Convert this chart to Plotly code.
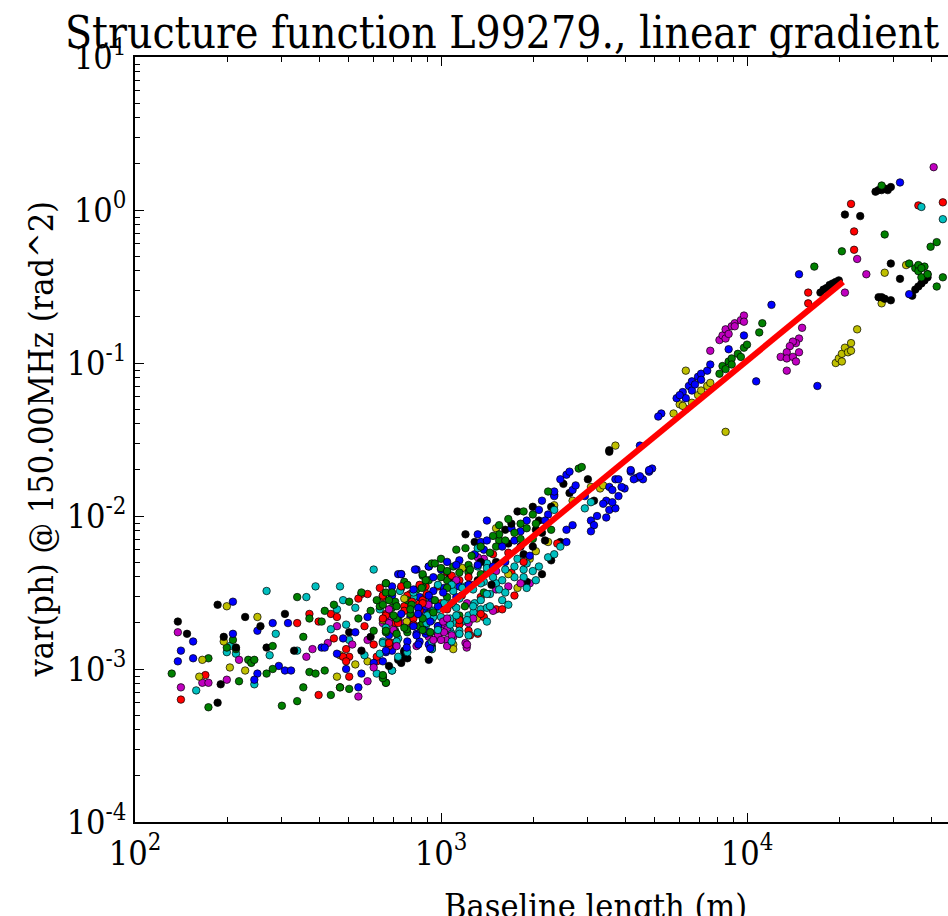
import numpy as np
import plotly.graph_objects as go

# ---- data (log10 of baseline length [m], log10 of phase variance [rad^2]) ----
blue_logx = [2.19,2.15,2.14,2.19,2.32,2.32,2.40,2.40,2.39,2.45,2.47,2.49,2.51,2.50,2.61,2.62,2.69,2.73,2.74,
             2.72,2.78,2.83,2.84,2.86,2.92,2.90,2.93,2.96,2.95,2.87,2.84,2.82,2.81,2.89,2.92,2.93,2.97,2.96,3.00,3.01,2.99,2.95,2.93,2.99,2.95,3.05,3.06,
             3.21,3.11,3.14,3.12,3.13,3.23,3.24,3.26,3.28,3.32,3.33,3.41,3.43,3.41,3.35,3.37,3.39,3.41,3.43,3.42,3.37,3.44,3.47,
             3.51,3.49,3.50,3.49,3.54,3.55,3.57,3.54,3.53,3.56,3.58,3.60,3.57,3.55,3.62,3.64,3.66,3.68,3.69,3.65,
             3.62,3.65,3.68,3.63,3.58,3.59,3.56,3.72,3.71,
             3.77,3.79,3.80,3.81,3.82,3.84,3.85,3.87,3.88,3.82,3.85,3.78,3.83,
             3.94,3.99,4.08,4.03,4.23,4.17,4.50,4.53,
             2.84,2.975,3.007,2.926,2.99,2.92,2.948,2.888,2.926,
             3.06,3.15,3.20,3.29,3.02,3.15,3.34,2.68,2.76,2.66,
             2.87,2.915,3.05,3.12,3.17,2.91,2.975,3.09,2.96,2.87,2.925,2.965,2.91,2.82,2.965]
blue_logy = [-2.82,-2.88,-2.95,-2.93,-2.56,-2.77,-2.75,-3.03,-3.07,-2.70,-2.98,-3.01,-3.01,-2.70,-2.86,-2.86,-3.00,-3.12,-3.03,
             -2.76,-2.96,-2.78,-2.88,-2.38,-2.35,-2.66,-2.53,-2.84,-2.61,-2.38,-2.52,-2.89,-2.95,-2.82,-2.77,-2.64,-2.55,-2.33,-2.35,-2.47,-2.72,-2.77,-2.82,-2.79,-2.59,-2.53,-2.46,
             -2.30,-2.25,-2.22,-2.12,-2.17,-2.08,-2.16,-2.10,-2.03,-1.96,-1.90,-2.09,-2.06,-2.17,-1.99,-1.87,-1.76,-1.73,-1.83,-1.71,-1.84,-1.80,-1.87,
             -2.00,-2.03,-2.06,-2.10,-2.01,-1.96,-1.95,-1.90,-1.92,-1.91,-1.87,-1.82,-1.76,-1.81,-1.71,-1.75,-1.76,-1.71,-1.69,-1.54,
             -1.70,-1.74,-1.70,-1.76,-1.76,-1.81,-1.83,-1.33,-1.35,
             -1.23,-1.19,-1.23,-1.15,-1.12,-1.09,-1.07,-1.05,-1.01,-1.18,-1.11,-1.21,-1.14,
             -0.91,-0.82,-0.62,-1.12,-1.15,-0.42,0.18,-0.55,
             -2.46,-2.49,-2.50,-2.60,-2.59,-2.78,-2.75,-2.86,-2.84,
             -2.29,-2.16,-2.20,-2.26,-2.30,-2.03,-2.03,-2.80,-2.66,-2.90,
             -2.38,-2.35,-2.32,-2.32,-2.33,-2.48,-2.40,-2.45,-2.52,-2.64,-2.64,-2.69,-2.72,-2.88,-2.865]

green_logx = [2.12,2.24,2.24,2.32,2.30,2.33,2.37,2.38,2.39,2.34,2.43,2.45,2.45,2.48,2.53,2.55,2.53,2.55,2.57,2.57,2.59,2.62,2.64,2.67,2.70,
              2.74,2.82,2.61,2.65,2.70,2.78,2.82,2.80,2.86,2.89,2.94,2.93,2.96,
              2.88,2.85,2.84,2.82,2.85,2.81,2.89,2.90,2.92,2.94,2.96,3.00,2.97,3.02,2.94,3.02,3.06,
              3.06,3.14,3.09,3.09,3.16,3.13,3.08,3.05,3.19,3.19,3.19,3.21,3.26,3.26,3.28,3.27,3.30,3.36,3.35,3.45,3.46,
              3.91,3.92,3.94,3.95,3.97,3.99,4.00,3.95,3.98,4.04,4.05,3.93,
              4.22,4.31,4.44,4.45,4.60,4.62,4.53,4.55,4.56,4.58,4.56,4.57,4.59,4.57,4.62,4.64,
              2.82,2.937,3.02,2.81,2.855,2.904,3.078,2.855,2.94,2.82,2.855,2.888,
              3.04,3.10,3.17,3.24,3.30,3.00,3.22,3.18,3.31,2.62,2.73,2.77,2.79,
              2.82,2.94,2.98,3.00,3.02,3.095,3.13,2.84,2.89,2.95,2.83,2.98,2.845,2.90,2.975,2.88,2.94,2.965,2.81]
green_logy = [-3.03,-2.93,-3.25,-2.81,-2.86,-2.87,-2.94,-2.96,-2.94,-3.08,-3.03,-2.85,-3.00,-3.24,-3.21,-3.12,-2.53,-2.79,-2.67,-3.02,-3.03,-3.01,-3.17,-3.12,-3.13,
              -2.50,-2.44,-2.69,-2.58,-2.56,-2.75,-3.09,-2.59,-2.67,-2.55,-2.46,-2.72,-2.64,
              -2.43,-2.56,-2.60,-2.76,-2.75,-3.06,-2.76,-2.64,-2.48,-2.39,-2.42,-2.28,-2.31,-2.42,-2.70,-2.53,-2.37,
              -2.65,-2.50,-2.37,-2.32,-2.24,-2.20,-2.21,-2.22,-2.16,-2.12,-2.06,-2.16,-2.15,-2.05,-2.08,-1.97,-1.99,-2.09,-1.84,-1.69,-1.68,
              -1.07,-1.02,-0.99,-0.97,-0.94,-0.90,-0.88,-1.01,-0.96,-0.80,-0.74,-1.04,
              -0.37,-0.27,0.16,-0.16,-0.24,-0.21,-0.35,-0.38,-0.36,-0.37,-0.40,-0.44,-0.42,-0.38,-0.50,-0.44,
              -2.50,-2.47,-2.47,-2.58,-2.59,-2.58,-2.59,-2.67,-2.67,-2.75,-2.77,-2.74,
              -2.33,-2.26,-2.13,-2.11,-2.15,-2.40,-2.02,-2.20,-2.05,-2.62,-2.67,-2.62,-2.55,
              -2.44,-2.38,-2.31,-2.34,-2.36,-2.35,-2.38,-2.50,-2.45,-2.42,-2.55,-2.55,-2.65,-2.61,-2.63,-2.73,-2.745,-2.76,-3.04]

red_logx = [2.15,2.23,2.53,2.57,2.60,2.67,2.70,
            2.74,2.76,2.81,2.60,2.64,2.73,2.69,2.70,2.68,2.65,2.79,2.79,2.82,2.82,2.85,2.90,2.93,
            2.81,2.82,2.88,2.84,2.91,2.94,2.89,2.95,3.02,2.99,3.00,3.06,
            3.06,3.09,3.12,3.18,3.20,3.13,3.23,3.15,3.15,3.17,3.38,
            4.20,4.20,4.35,4.35,4.34,4.56,4.64,
            2.80,2.953,3.068,2.88,2.93,3.02,2.91,3.06,3.095,2.83,
            3.09,3.22,3.27,3.24,3.14,2.66,2.75,2.78,2.69,
            3.035,2.81,2.87,2.93,2.905,2.94,2.81,3.13,2.86,2.83]
red_logy = [-3.20,-3.04,-2.70,-2.64,-3.17,-3.12,-3.05,
            -2.51,-2.51,-2.52,-2.69,-2.64,-2.54,-2.87,-2.92,-2.92,-2.80,-2.95,-2.92,-2.64,-2.83,-2.70,-2.51,-2.57,
            -2.53,-2.65,-2.59,-2.83,-2.67,-2.55,-2.52,-2.46,-2.37,-2.46,-2.57,-2.42,
            -2.71,-2.75,-2.77,-2.61,-2.61,-2.53,-2.37,-2.37,-2.32,-2.25,-2.18,
            -0.54,-0.61,-0.26,-0.14,0.04,0.03,0.05,
            -2.47,-2.51,-2.52,-2.62,-2.62,-2.61,-2.71,-2.68,-2.78,-2.85,
            -2.40,-2.24,-2.30,-2.52,-2.66,-2.66,-2.72,-2.84,-2.95,
            -2.39,-2.52,-2.46,-2.45,-2.56,-2.57,-2.67,-2.64,-2.70,-2.83]

cyan_logx = [2.20,2.31,2.30,2.33,2.43,2.39,2.46,2.44,2.53,2.56,2.59,2.67,2.78,
             2.66,2.68,2.69,2.70,2.75,2.79,2.84,2.80,2.97,2.99,
             2.87,2.81,2.86,2.84,2.91,2.95,2.97,3.03,2.95,2.97,3.03,3.05,3.07,3.09,3.13,3.15,3.11,3.16,3.18,3.19,3.21,3.27,3.24,3.27,3.30,3.32,3.28,3.25,3.24,3.21,3.17,3.14,3.08,3.12,3.15,3.12,3.35,3.39,3.37,3.47,3.49,3.00,3.04,3.06,3.37,
             4.57,4.64,
             2.866,2.91,3.04,2.975,3.05,3.106,2.953,2.975,3.03,3.035,3.06,2.81,2.855,2.97,
             3.20,3.20,3.28,3.31,3.22,2.64,2.72,2.80,2.86,
             3.15,2.99,3.035,3.07,3.105,3.13,3.15,3.01,3.035,3.06,3.105,3.13,3.16,2.955,3.05,3.085,3.15,2.82,2.99,3.06,3.09,3.12,3.035,2.89]
cyan_logy = [-3.14,-2.85,-2.89,-2.90,-2.49,-3.10,-2.77,-2.91,-2.88,-2.53,-2.46,-2.46,-2.35,
             -2.61,-2.55,-2.71,-2.81,-2.91,-3.03,-3.01,-2.61,-2.81,-2.61,
             -2.47,-2.82,-2.80,-3.01,-2.53,-2.53,-2.68,-2.67,-2.72,-2.82,-2.75,-2.70,-2.69,-2.65,-2.61,-2.60,-2.57,-2.51,-2.44,-2.48,-2.50,-2.40,-2.40,-2.35,-2.36,-2.33,-2.31,-2.28,-2.33,-2.35,-2.40,-2.43,-2.46,-2.33,-2.31,-2.21,-2.27,-2.20,-1.96,-1.95,-1.91,-2.66,-2.58,-2.77,-2.25,
             0.02,-0.06,
             -2.49,-2.50,-2.49,-2.62,-2.60,-2.63,-2.70,-2.66,-2.71,-2.77,-2.75,-2.83,-2.82,-2.87,
             -2.42,-2.55,-2.47,-2.42,-2.58,-2.74,-2.60,-2.90,-2.92,
             -2.34,-2.45,-2.45,-2.47,-2.48,-2.44,-2.51,-2.57,-2.57,-2.54,-2.59,-2.55,-2.59,-2.65,-2.65,-2.68,-2.69,-2.73,-2.745,-2.77,-2.78,-2.76,-2.82,-2.89]

magenta_logx = [2.14,2.15,2.22,2.24,2.30,2.34,2.56,2.58,2.73,2.76,
                2.66,2.63,2.76,2.81,2.81,2.88,2.99,
                2.83,2.82,2.90,2.96,3.01,2.99,2.96,3.02,3.04,3.08,2.93,3.18,3.22,3.29,3.18,3.14,3.12,3.09,
                3.88,3.91,3.92,3.93,3.95,3.96,3.98,3.99,3.99,3.93,3.94,3.96,
                4.18,4.17,4.16,4.15,4.14,4.13,4.11,4.13,4.15,4.17,4.16,4.13,
                4.32,4.36,4.39,4.61,
                2.83,2.959,2.83,3.007,3.09,2.964,2.99,3.02,3.02,3.084,
                3.10,3.26,3.17,2.71,2.78,
                3.05,3.085,3.02,3.105,2.845,3.01,3.035,2.975,3.00,3.085,2.855,2.92]
magenta_logy = [-2.76,-3.12,-3.09,-3.09,-3.07,-2.94,-2.92,-2.87,-3.18,-3.08,
                -2.72,-2.83,-2.81,-3.05,-2.70,-2.70,-2.72,
                -2.68,-3.09,-2.70,-2.60,-2.71,-2.77,-2.79,-2.81,-2.79,-2.83,-2.72,-2.48,-2.46,-2.44,-2.36,-2.28,-2.27,-2.69,
                -0.92,-0.85,-0.82,-0.78,-0.76,-0.74,-0.72,-0.69,-0.73,-0.84,-0.81,-0.76,
                -0.77,-0.84,-0.87,-0.86,-0.89,-0.93,-0.96,-0.97,-0.96,-0.93,-0.99,-1.05,
                -0.54,-0.32,-0.42,0.28,
                -2.61,-2.58,-2.70,-2.69,-2.70,-2.76,-2.78,-2.74,-2.85,-2.86,
                -2.45,-2.44,-2.62,-2.84,-2.99,
                -2.42,-2.57,-2.67,-2.67,-2.745,-2.76,-2.78,-2.81,-2.81,-2.84,-2.85,-2.85]

yellow_logx = [2.30,2.22,2.21,2.31,2.29,2.40,2.36,2.66,
               2.67,2.76,2.89,3.04,3.25,3.29,3.18,3.35,3.31,3.37,3.43,3.49,3.52,3.57,3.53,
               3.76,3.78,3.80,3.82,3.84,3.85,3.87,3.88,3.80,3.93,3.79,
               4.36,4.29,4.30,4.31,4.32,4.34,4.33,4.31,4.34,
               4.45,4.52,4.44,
               2.81,2.888,3.117,3.04,3.22,2.72,3.07,2.88]
yellow_logy = [-2.59,-2.94,-3.05,-2.99,-2.82,-2.66,-3.01,-3.05,
               -2.91,-2.95,-2.70,-2.84,-2.47,-2.28,-2.08,-2.17,-2.23,-1.93,-1.90,-1.81,-1.82,-1.54,-1.80,
               -1.33,-1.27,-1.30,-1.26,-1.21,-1.18,-1.15,-1.13,-1.05,-1.45,-1.28,
               -0.78,-1.00,-0.97,-0.94,-0.90,-0.87,-0.93,-0.99,-0.92,
               -0.41,-0.36,-0.61,
               -2.68,-2.69,-2.67,-2.87,-2.38,-2.97,-2.34,-2.54]

black_logx = [2.14,2.17,2.27,2.27,2.28,2.29,2.36,2.41,2.43,2.33,2.49,2.52,
              2.70,2.77,2.86,2.88,2.89,2.96,2.97,2.87,2.88,2.97,2.96,
              3.12,3.11,3.08,3.21,3.25,3.30,3.32,3.31,3.34,3.30,3.36,3.39,3.36,3.42,3.48,3.50,3.55,3.55,3.28,3.37,3.40,3.03,3.18,3.22,
              4.24,4.25,4.27,4.29,4.30,4.26,4.28,
              4.32,4.37,
              4.42,4.43,4.45,4.47,4.46,4.44,
              4.47,4.50,
              4.54,4.55,4.56,4.57,4.58,4.59,
              4.43,4.44,4.45,4.47,4.59,
              3.13,3.26,3.33,3.23,3.27,3.33,2.74,2.83,3.165,2.88]
black_logy = [-2.69,-2.77,-2.58,-3.22,-3.10,-2.79,-2.66,-2.72,-2.86,-2.86,-2.64,-2.88,
              -2.76,-2.79,-2.94,-2.88,-2.93,-2.33,-2.85,-2.96,-2.89,-2.87,-2.94,
              -2.42,-2.17,-2.12,-2.09,-1.97,-1.94,-2.03,-2.09,-2.16,-2.20,-2.29,-2.17,-1.94,-1.85,-1.76,-1.90,-1.57,-1.58,-2.43,-1.86,-1.79,-2.40,-2.30,-2.18,
              -0.54,-0.52,-0.49,-0.47,-0.46,-0.51,-0.48,
              -0.03,-0.04,
              0.12,0.13,0.14,0.15,0.13,0.13,
              -0.35,-0.45,
              -0.56,-0.52,-0.50,-0.48,-0.46,-0.44,
              -0.57,-0.57,-0.58,-0.59,-0.42,
              -2.30,-2.20,-2.11,-2.05,-2.25,-2.38,-2.88,-2.98,-2.45,-2.92]

# linear-gradient fit line endpoints (baseline m, variance rad^2)
fit_baseline = [1000, 20600]
fit_var = [0.00236, 0.339]

x_major = [1e2, 1e3, 1e4]
x_major_text = ["10<sup>2</sup>", "10<sup>3</sup>", "10<sup>4</sup>"]
y_major = [1e-4, 1e-3, 1e-2, 1e-1, 1e0, 1e1]
y_major_text = ["10<sup>-4</sup>", "10<sup>-3</sup>", "10<sup>-2</sup>",
                "10<sup>-1</sup>", "10<sup>0</sup>", "10<sup>1</sup>"]

series = [
    (blue_logx, blue_logy, "#0000ff"),
    (green_logx, green_logy, "#008000"),
    (red_logx, red_logy, "#ff0000"),
    (cyan_logx, cyan_logy, "#00bfbf"),
    (magenta_logx, magenta_logy, "#bf00bf"),
    (yellow_logx, yellow_logy, "#bfbf00"),
    (black_logx, black_logy, "#000000"),
]

# interleave the colour groups so that no single colour sits on top of all others
xs, ys, cs = [], [], []
nmax = max(len(s[0]) for s in series)
for i in range(nmax):
    for lx, ly, col in series:
        if i < len(lx):
            xs.append(10 ** lx[i])
            ys.append(10 ** ly[i])
            cs.append(col)

FONT = "DejaVu Serif Condensed, DejaVu Serif, serif"

fig = go.Figure()
fig.add_trace(go.Scatter(
    x=xs, y=ys, mode="markers",
    marker=dict(size=7.5, color=cs, line=dict(color="black", width=0.7)),
    showlegend=False))

fig.add_trace(go.Scatter(x=fit_baseline, y=fit_var, mode="lines",
                         line=dict(color="#ff0000", width=6), showlegend=False))

minor_x = [m * 10 ** k for k in range(2, 5) for m in range(2, 10)]
minor_y = [m * 10 ** k for k in range(-4, 1) for m in range(2, 10)]

fig.update_layout(
    width=948, height=916,
    margin=dict(l=135, r=0, t=57, b=94),
    paper_bgcolor="white", plot_bgcolor="white",
    font=dict(family=FONT, size=34, color="black"),
    title=dict(text="Structure function L99279., linear gradient",
               font=dict(family=FONT, size=44, color="black"),
               xref="container", x=65 / 948, xanchor="left",
               yref="container", y=1 - 33 / 916, yanchor="middle"),
    xaxis=dict(type="log", range=[2, 2 + 813 / 306], showgrid=False, zeroline=False,
               showline=True, linecolor="black", linewidth=1.5, mirror="ticks",
               ticks="inside", ticklen=9, tickwidth=1, tickcolor="black",
               tickmode="array", tickvals=x_major, ticktext=x_major_text,
               minor=dict(tickmode="array", tickvals=minor_x, ticks="inside",
                          ticklen=5, tickwidth=1, tickcolor="black", showgrid=False),
               tickfont=dict(family=FONT, size=34)),
    yaxis=dict(type="log", range=[-4, 1], showgrid=False, zeroline=False,
               showline=True, linecolor="black", linewidth=1.5, mirror=False,
               ticks="inside", ticklen=9, tickwidth=1, tickcolor="black",
               tickmode="array", tickvals=y_major, ticktext=y_major_text,
               minor=dict(tickmode="array", tickvals=minor_y, ticks="inside",
                          ticklen=5, tickwidth=1, tickcolor="black", showgrid=False),
               tickfont=dict(family=FONT, size=34)),
    annotations=[
        dict(text="var(ph) @ 150.00MHz (rad^2)", textangle=-90, showarrow=False,
             xref="paper", yref="paper", x=(40 - 135) / 813, y=0.5,
             xanchor="center", yanchor="middle", font=dict(family=FONT, size=34)),
        dict(text="Baseline length (m)", showarrow=False,
             xref="paper", yref="paper", x=(595 - 135) / 813, y=-(884 - 822) / 765,
             xanchor="center", yanchor="top", font=dict(family=FONT, size=34)),
    ],
)

fig.write_html("out.html")
